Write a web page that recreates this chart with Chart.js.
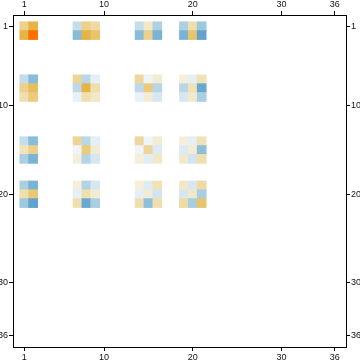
<!DOCTYPE html>
<html>
<head>
<meta charset="utf-8">
<script src="https://cdn.jsdelivr.net/npm/chart.js@4.4.0/dist/chart.umd.min.js"></script>
<style>
  html, body { margin: 0; padding: 0; background: #fff; }
</style>
</head>
<body>
<canvas id="matrix-plot" width="360" height="363"></canvas>
<script>
// 36 x 36 matrix, only the cells below are non zero
const tickValues = [1, 10, 20, 30, 36];
const rowIds = [1, 2, 7, 8, 9, 14, 15, 16, 19, 20, 21];
const colIds = [1, 2, 7, 8, 9, 14, 15, 16, 19, 20, 21];

const row01 = [0.45, 0.70, -0.30, 0.45, 0.35, -0.30, 0.20, -0.40, -0.40, 0.30, -0.50];
const row02 = [0.70, 1.00, -0.60, 0.70, 0.55, -0.60, 0.45, -0.65, -0.65, 0.55, -0.80];
const row07 = [-0.30, -0.60, 0.40, -0.35, -0.12, 0.38, -0.07, 0.15, 0.13, -0.12, 0.27];
const row08 = [0.45, 0.60, -0.33, 0.70, 0.30, -0.33, 0.50, -0.36, -0.35, 0.27, -0.75];
const row09 = [0.30, 0.50, -0.10, 0.30, 0.20, -0.10, 0.15, -0.20, -0.20, 0.18, -0.42];
const row14 = [-0.30, -0.60, 0.40, -0.35, -0.12, 0.38, -0.07, 0.15, 0.13, -0.12, 0.27];
const row15 = [0.25, 0.45, -0.07, 0.50, 0.15, -0.07, 0.40, -0.17, -0.17, 0.15, -0.58];
const row16 = [-0.42, -0.65, 0.13, -0.37, -0.20, 0.13, -0.13, 0.20, 0.18, -0.23, 0.30];
const row19 = [-0.42, -0.65, 0.13, -0.38, -0.20, 0.13, -0.16, 0.27, 0.20, -0.20, 0.35];
const row20 = [0.30, 0.52, -0.12, 0.30, 0.15, -0.12, 0.15, -0.23, -0.20, 0.18, -0.43];
const row21 = [-0.50, -0.80, 0.30, -0.75, -0.42, 0.30, -0.58, 0.30, 0.35, -0.43, 0.55];

const matrixRows = [row01, row02, row07, row08, row09, row14, row15, row16, row19, row20, row21];

// colour scale: blue for negative, white at zero, tan -> orange for positive
const posStops = [
    [0, [255, 255, 255]], [0.15, [243, 236, 212]], [0.3, [240, 223, 174]],
    [0.45, [237, 208, 140]], [0.55, [232, 196, 106]], [0.7, [230, 179, 69]],
    [1, [255, 111, 0]]
];
const negStops = [
    [0, [255, 255, 255]], [0.1, [231, 241, 247]], [0.2, [214, 231, 241]],
    [0.3, [197, 221, 235]], [0.4, [173, 208, 227]], [0.5, [156, 200, 224]],
    [0.6, [136, 189, 217]], [0.65, [122, 180, 213]], [0.75, [103, 169, 209]],
    [0.8, [95, 163, 206]], [1, [70, 140, 195]]
];

function cellColor(v) {
    let stops = v >= 0 ? posStops : negStops;
    let t = Math.min(Math.abs(v), 1);
    for (let i = 1; i < stops.length; i++) {
        if (t <= stops[i][0]) {
            let a = stops[i - 1], b = stops[i];
            let f = (t - a[0]) / (b[0] - a[0]);
            let c = a[1].map((ch, k) => Math.round(ch + (b[1][k] - ch) * f));
            return 'rgb(' + c.join(',') + ')';
        }
    }
    return 'rgb(' + stops[stops.length - 1][1].join(',') + ')';
}

let cells = [];
matrixRows.forEach(function (vals, ri) {
    vals.forEach(function (v, ci) {
        cells.push({ x: colIds[ci], y: [rowIds[ri] - 0.5, rowIds[ri] + 0.5], v: v });
    });
});

const axisMin = -0.27;
const axisMax = 37.27;
const labelFont = { family: 'Liberation Sans', size: 9 };

function fixTicks(scale) {
    scale.ticks = tickValues.map(v => ({ value: v }));
}

function frameAxis(position, size, reverse) {
    return {
        type: 'linear',
        position: position,
        min: axisMin,
        max: axisMax,
        reverse: reverse,
        offset: false,
        afterBuildTicks: fixTicks,
        afterFit: function (scale) {
            if (position === 'left' || position === 'right') scale.width = size;
            else scale.height = size;
        },
        grid: { offset: false, drawOnChartArea: false, drawTicks: true, tickLength: 4, color: '#000', lineWidth: 1 },
        border: { display: true, color: '#000', width: 1 },
        ticks: {
            padding: 1,
            font: labelFont,
            color: '#111',
            autoSkip: false,
            maxRotation: 0,
            callback: v => String(v)
        }
    };
}

new Chart(document.getElementById('matrix-plot'), {
    type: 'bar',
    data: {
        datasets: [{
            data: cells,
            backgroundColor: cells.map(c => cellColor(c.v)),
            borderWidth: 0,
            barPercentage: 1,
            categoryPercentage: 1,
            inflateAmount: 0.4
        }]
    },
    options: {
        responsive: false,
        animation: false,
        devicePixelRatio: 1,
        layout: { padding: 0 },
        plugins: {
            legend: { display: false },
            tooltip: { enabled: false }
        },
        scales: {
            x: frameAxis('bottom', 16, false),
            x2: frameAxis('top', 15, false),
            y: frameAxis('left', 13, true),
            y2: frameAxis('right', 14, true)
        }
    }
});
</script>
</body>
</html>
